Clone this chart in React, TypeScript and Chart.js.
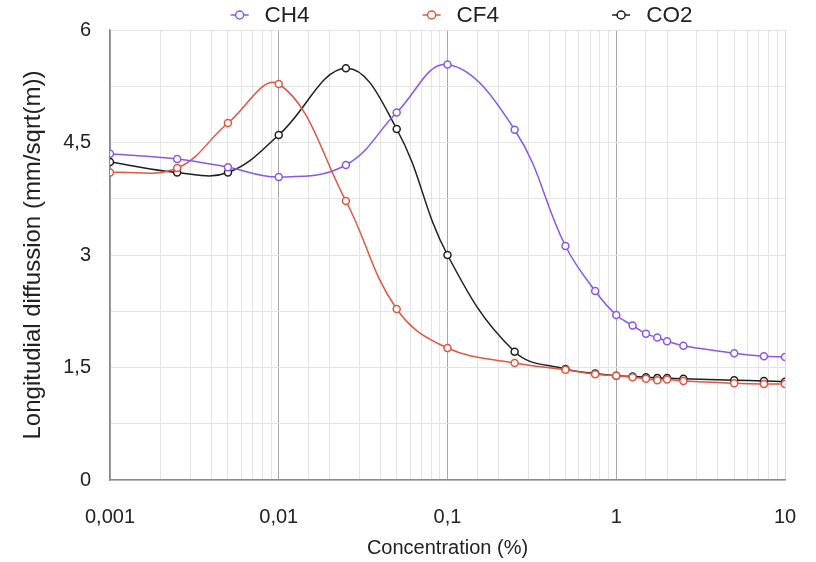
import React, { useEffect, useRef } from "react";
import { Chart, registerables } from "chart.js";

Chart.register(...registerables);

const concentrations = [0.001, 0.0025, 0.005, 0.01, 0.025, 0.05, 0.1, 0.25, 0.5, 0.75, 1, 1.25, 1.5, 1.75, 2, 2.5, 5, 7.5, 10];
const ch4Values = [4.35, 4.28, 4.17, 4.04, 4.2, 4.9, 5.54, 4.67, 3.12, 2.52, 2.2, 2.06, 1.95, 1.9, 1.85, 1.79, 1.69, 1.65, 1.64];
const cf4Values = [4.1, 4.16, 4.76, 5.28, 3.72, 2.28, 1.76, 1.56, 1.47, 1.41, 1.39, 1.37, 1.35, 1.33, 1.34, 1.32, 1.29, 1.28, 1.28];
const co2Values = [4.24, 4.1, 4.1, 4.6, 5.49, 4.68, 3.0, 1.71, 1.48, 1.42, 1.39, 1.38, 1.37, 1.36, 1.36, 1.35, 1.33, 1.32, 1.31];
const seriesNames = ["CH4", "CF4", "CO2"];
const seriesColors = ["#8a58e8", "#e05646", "#1e1e1e"];
const yTickLabels = [0, 1.5, 3, 4.5, 6];
const xTickLabels = [0.001, 0.01, 0.1, 1, 10];

const FONT = "'Liberation Sans', Arial, sans-serif";

const legendPlugin = {
  id: "customLegend",
  afterDraw(chart: any) {
    const ctx = chart.ctx;
    const ds = chart.data.datasets;
    ctx.save();
    ctx.font = `22.5px ${FONT}`;
    const markerW = 18;
    const gapText = 16;
    const gapItem = 113;
    const widths = ds.map((d: any) => markerW + gapText + ctx.measureText(d.label).width);
    const total = widths.reduce((a: number, b: number) => a + b, 0) + gapItem * (ds.length - 1);
    const center = (chart.chartArea.left + chart.chartArea.right) / 2 + 14;
    let x = center - total / 2;
    const y = 15;
    ds.forEach((d: any, i: number) => {
      ctx.strokeStyle = d.borderColor;
      ctx.lineWidth = 1.5;
      ctx.beginPath();
      ctx.moveTo(x, y);
      ctx.lineTo(x + markerW, y);
      ctx.stroke();
      ctx.beginPath();
      ctx.arc(x + markerW / 2, y, 4, 0, Math.PI * 2);
      ctx.fillStyle = "#fff";
      ctx.fill();
      ctx.stroke();
      ctx.fillStyle = "#222";
      ctx.textBaseline = "middle";
      ctx.textAlign = "left";
      ctx.fillText(d.label, x + markerW + gapText, y + 1);
      x += widths[i] + gapItem;
    });
    ctx.restore();
  },
};

const fmt = (v: number) => String(v).replace(".", ",");

export default function App() {
  const ref = useRef<HTMLCanvasElement>(null);
  useEffect(() => {
    const valueSets = [ch4Values, cf4Values, co2Values];
    const chart = new Chart(ref.current!, {
      type: "line",
      data: {
        datasets: valueSets.map((vals, i) => ({
          label: seriesNames[i],
          data: concentrations.map((c, j) => ({ x: c, y: vals[j] })),
          borderColor: seriesColors[i],
          backgroundColor: "#ffffff",
          borderWidth: 1.5,
          pointRadius: 3.5,
          pointBorderWidth: 1.5,
          pointBackgroundColor: "#ffffff",
          pointBorderColor: seriesColors[i],
          tension: 0.4,
          fill: false,
        })),
      },
      options: {
        animation: false,
        responsive: true,
        maintainAspectRatio: false,
        layout: { padding: { top: 30, right: 31, left: 0, bottom: 0 } },
        plugins: { legend: { display: false }, tooltip: { enabled: false } },
        scales: {
          x: {
            type: "logarithmic",
            min: 0.001,
            max: 10,
            afterFit: (s: any) => {
              s.height = 82;
              s.paddingLeft = 0;
              s.paddingRight = 0;
            },
            border: { color: "#8a8a8a", width: 1.5 },
            grid: {
              drawTicks: false,
              color: (c: any) => {
                const v = c.tick ? c.tick.value : 0;
                const lg = Math.log10(v);
                const major = Math.abs(lg - Math.round(lg)) < 1e-6;
                if (major && Math.abs(v - 10) < 1e-9) return "#d8d8d8";
                return major ? "#a8a8a8" : "#e4e4e4";
              },
            },
            ticks: {
              autoSkip: false,
              maxRotation: 0,
              padding: 25,
              color: "#222",
              font: { family: FONT, size: 20 },
              callback: (v: any) => {
                const n = Number(v);
                const hit = xTickLabels.find((t) => Math.abs(t - n) / t < 1e-6);
                return hit !== undefined ? fmt(hit) : "";
              },
            },
            title: {
              display: true,
              text: "Concentration (%)",
              color: "#222",
              font: { family: FONT, size: 20 },
              padding: { top: 0, bottom: 2 },
            },
          },
          y: {
            min: 0,
            max: 6,
            afterFit: (s: any) => {
              s.width = 110;
              s.paddingTop = 0;
              s.paddingBottom = 0;
            },
            border: { color: "#8a8a8a", width: 1.5 },
            grid: { drawTicks: false, color: "#e4e4e4" },
            ticks: {
              stepSize: 0.75,
              padding: 19,
              color: "#222",
              font: { family: FONT, size: 20 },
              callback: (v: any) => {
                const n = Number(v);
                const hit = yTickLabels.find((t) => Math.abs(t - n) < 1e-6);
                return hit !== undefined ? fmt(hit) : "";
              },
            },
            title: {
              display: true,
              text: "Longitudial diffussion (mm/sqrt(m))",
              color: "#222",
              font: { family: FONT, size: 24 },
              padding: { top: 19, bottom: 0 },
            },
          },
        },
      },
      plugins: [legendPlugin],
    } as any);
    return () => chart.destroy();
  }, []);
  return (
    <div style={{ position: "fixed", left: 0, top: 0, width: 816, height: 562, background: "#fff" }}>
      <canvas ref={ref} />
    </div>
  );
}
